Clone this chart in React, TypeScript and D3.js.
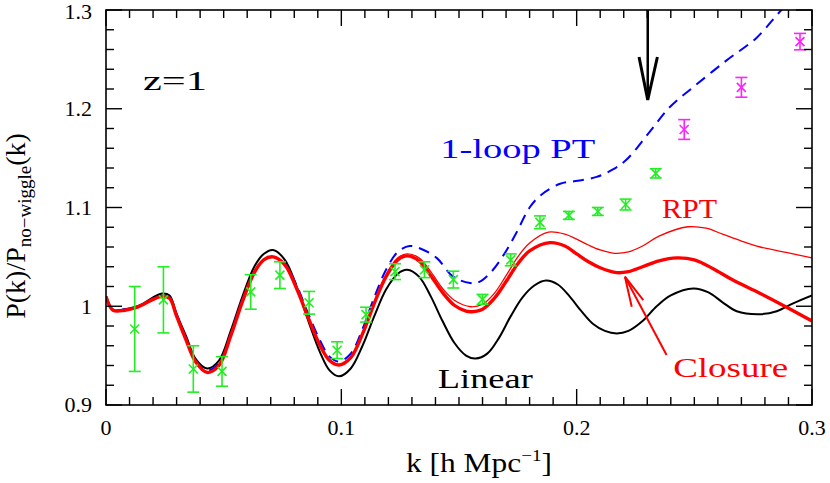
import * as d3 from "d3";
import React from "react";

// N-body points (green) and the ones beyond the marked scale (magenta)
const kGreen = [0.0122, 0.0244, 0.0371, 0.0493, 0.0615, 0.0739, 0.0863, 0.0982, 0.1105, 0.1228, 0.1353, 0.1476, 0.16, 0.172, 0.1844, 0.1967, 0.209, 0.2208, 0.2336];
const pGreen = [0.977, 1.0065, 0.9365, 0.934, 1.0145, 1.0315, 1.0035, 0.9555, 0.9915, 1.035, 1.037, 1.027, 1.007, 1.047, 1.085, 1.092, 1.096, 1.103, 1.1346];
const eGreen = [0.043, 0.0335, 0.0235, 0.015, 0.0175, 0.0135, 0.0115, 0.0085, 0.0075, 0.008, 0.008, 0.0085, 0.005, 0.006, 0.0065, 0.004, 0.004, 0.0055, 0.0047];

const kMagenta = [0.2457, 0.27, 0.2949];
const pMagenta = [1.179, 1.2217, 1.268];
const eMagenta = [0.01, 0.01, 0.0083];

// Linear theory
const kLin = [0, 0.003, 0.008, 0.012, 0.016, 0.02, 0.024, 0.027, 0.03, 0.034, 0.038, 0.043, 0.048, 0.053, 0.058, 0.063, 0.067, 0.071, 0.076, 0.081, 0.086, 0.091, 0.095, 0.099, 0.104, 0.109, 0.114, 0.119, 0.124, 0.128, 0.133, 0.138, 0.143, 0.148, 0.153, 0.157, 0.162, 0.167, 0.172, 0.177, 0.182, 0.187, 0.192, 0.197, 0.202, 0.207, 0.212, 0.217, 0.222, 0.228, 0.234, 0.24, 0.2496, 0.256, 0.262, 0.268, 0.278, 0.285, 0.292, 0.3];
const pLin = [1.01, 0.996, 0.997, 0.999, 1.003, 1.009, 1.013, 1.011, 0.992, 0.97, 0.947, 0.937, 0.945, 0.975, 1.01, 1.04, 1.053, 1.057, 1.047, 1.02, 0.985, 0.953, 0.935, 0.929, 0.937, 0.96, 0.99, 1.017, 1.033, 1.037, 1.03, 1.01, 0.985, 0.963, 0.95, 0.947, 0.952, 0.968, 0.99, 1.009, 1.021, 1.026, 1.022, 1.01, 0.995, 0.982, 0.975, 0.9725, 0.975, 0.985, 1.0, 1.011, 1.018, 1.014, 1.004, 0.995, 0.992, 0.995, 1.003, 1.011];

// Closure theory (thick red)
const kClo = [0, 0.003, 0.008, 0.012, 0.016, 0.02, 0.024, 0.027, 0.03, 0.034, 0.038, 0.043, 0.048, 0.053, 0.058, 0.063, 0.067, 0.071, 0.076, 0.081, 0.086, 0.091, 0.095, 0.099, 0.104, 0.109, 0.114, 0.119, 0.124, 0.128, 0.133, 0.138, 0.143, 0.148, 0.153, 0.1555, 0.16, 0.165, 0.17, 0.175, 0.18, 0.1887, 0.195, 0.2, 0.205, 0.21, 0.217, 0.222, 0.228, 0.235, 0.2425, 0.25, 0.258, 0.266, 0.278, 0.29, 0.3];
const pClo = [1.01, 0.996, 0.996, 0.998, 1.002, 1.007, 1.01, 1.008, 0.99, 0.966, 0.944, 0.933, 0.94, 0.97, 1.005, 1.034, 1.047, 1.05, 1.042, 1.018, 0.988, 0.96, 0.945, 0.9405, 0.948, 0.972, 1.003, 1.03, 1.047, 1.051, 1.046, 1.031, 1.014, 1.001, 0.995, 0.9945, 0.997, 1.008, 1.025, 1.043, 1.056, 1.0644, 1.061, 1.053, 1.045, 1.039, 1.034, 1.035, 1.04, 1.046, 1.049, 1.047, 1.038, 1.027, 1.013, 0.998, 0.985];

// RPT (thin red)
const kRpt = [0, 0.003, 0.008, 0.012, 0.016, 0.02, 0.024, 0.027, 0.03, 0.034, 0.038, 0.043, 0.048, 0.053, 0.058, 0.063, 0.067, 0.071, 0.076, 0.081, 0.086, 0.091, 0.095, 0.099, 0.104, 0.109, 0.114, 0.119, 0.124, 0.128, 0.133, 0.138, 0.143, 0.148, 0.155, 0.16, 0.165, 0.17, 0.175, 0.18, 0.188, 0.195, 0.2, 0.205, 0.21, 0.216, 0.222, 0.228, 0.235, 0.2473, 0.255, 0.262, 0.27, 0.278, 0.29, 0.3];
const pRpt = [1.01, 0.996, 0.996, 0.998, 1.002, 1.007, 1.01, 1.008, 0.99, 0.966, 0.944, 0.933, 0.94, 0.97, 1.005, 1.034, 1.047, 1.05, 1.042, 1.018, 0.988, 0.96, 0.945, 0.9405, 0.948, 0.972, 1.004, 1.032, 1.049, 1.053, 1.049, 1.035, 1.018, 1.006, 0.9995, 1.002, 1.013, 1.031, 1.05, 1.064, 1.075, 1.073, 1.068, 1.062, 1.057, 1.0536, 1.055, 1.061, 1.071, 1.0805, 1.079, 1.073, 1.066, 1.06, 1.054, 1.049];

// 1-loop PT (blue dashed)
const kPt = [0, 0.003, 0.008, 0.012, 0.016, 0.02, 0.024, 0.027, 0.03, 0.034, 0.038, 0.043, 0.048, 0.053, 0.058, 0.063, 0.067, 0.071, 0.076, 0.081, 0.086, 0.091, 0.095, 0.099, 0.104, 0.109, 0.114, 0.119, 0.124, 0.129, 0.134, 0.1405, 0.1475, 0.1547, 0.158, 0.163, 0.169, 0.1745, 0.18, 0.185, 0.193, 0.2005, 0.2085, 0.215, 0.221, 0.2305, 0.2397, 0.2496, 0.2637, 0.2765, 0.287, 0.292];
const pPt = [1.01, 0.996, 0.997, 0.998, 1.002, 1.007, 1.011, 1.009, 0.992, 0.968, 0.945, 0.935, 0.942, 0.972, 1.007, 1.035, 1.047, 1.05, 1.043, 1.021, 0.992, 0.965, 0.949, 0.944, 0.952, 0.977, 1.009, 1.037, 1.055, 1.061, 1.058, 1.049, 1.03, 1.0235, 1.024, 1.033, 1.052, 1.075, 1.1, 1.113, 1.124, 1.127, 1.131, 1.138, 1.148, 1.175, 1.202, 1.222, 1.249, 1.272, 1.3, 1.311];

const xTickLabels = ["0", "0.1", "0.2", "0.3"];
const yTickLabels = ["0.9", "1", "1.1", "1.2", "1.3"];

const W = 830;
const H = 483;
const m = { left: 106, right: 812, top: 10, bottom: 405 };
const FONT = "'Liberation Serif', serif";

const x = d3.scaleLinear().domain([0, 0.3]).range([m.left, m.right]);
const y = d3.scaleLinear().domain([0.9, 1.3]).range([m.bottom, m.top]);

const line = d3
  .line<[number, number]>()
  .x((d) => x(d[0]))
  .y((d) => y(d[1]))
  .curve(d3.curveCatmullRom.alpha(0.5));

const zip = (ks: number[], ps: number[]) => ks.map((k, i) => [k, ps[i]] as [number, number]);

const Points = ({ ks, ps, es, color }: { ks: number[]; ps: number[]; es: number[]; color: string }) => (
  <g stroke={color} strokeWidth={1.6} fill="none">
    {ks.map((k, i) => {
      const cx = x(k);
      const cy = y(ps[i]);
      const hi = y(ps[i] + es[i]);
      const lo = y(ps[i] - es[i]);
      const c = 6;
      const s = 4.5;
      return (
        <g key={i}>
          <line x1={cx} x2={cx} y1={hi} y2={lo} />
          <line x1={cx - c} x2={cx + c} y1={hi} y2={hi} />
          <line x1={cx - c} x2={cx + c} y1={lo} y2={lo} />
          <line x1={cx - s} x2={cx + s} y1={cy - s} y2={cy + s} />
          <line x1={cx - s} x2={cx + s} y1={cy + s} y2={cy - s} />
        </g>
      );
    })}
  </g>
);

export default function App() {
  const xMinor = d3.range(0, 31).map((i) => i / 100);
  const yMinor = d3.range(0, 21).map((i) => 0.9 + i * 0.02);
  const xMajor = xTickLabels.map(Number);
  const yMajor = yTickLabels.map(Number);

  return (
    <svg width={W} height={H} style={{ position: "absolute", left: 0, top: 0, background: "#fff" }}>
      <defs>
        <clipPath id="plot">
          <rect x={m.left} y={m.top} width={m.right - m.left} height={m.bottom - m.top} />
        </clipPath>
      </defs>

      {/* curves */}
      <g clipPath="url(#plot)" fill="none">
        <path d={line(zip(kLin, pLin)) || ""} stroke="#000" strokeWidth={2} />
        <path d={line(zip(kRpt, pRpt)) || ""} stroke="#ff0000" strokeWidth={1.3} />
        <path d={line(zip(kPt, pPt)) || ""} stroke="#0000ff" strokeWidth={2} strokeDasharray="11,7" />
        <path d={line(zip(kClo, pClo)) || ""} stroke="#ff0000" strokeWidth={3.4} />
      </g>

      <Points ks={kGreen} ps={pGreen} es={eGreen} color="#22ee22" />
      <Points ks={kMagenta} ps={pMagenta} es={eMagenta} color="#ff22ff" />

      {/* arrows */}
      <g stroke="#000" strokeWidth={2.5} fill="none">
        <line x1={x(0.2302)} x2={x(0.2302)} y1={y(1.3)} y2={y(1.2089)} />
        <polyline
          points={`${x(0.2265)},${y(1.2524)} ${x(0.2302)},${y(1.2089)} ${x(0.2343)},${y(1.2524)}`}
          strokeWidth={3}
        />
      </g>
      <g stroke="#ff0000" strokeWidth={2} fill="none">
        <line x1={x(0.2382)} y1={y(0.9506)} x2={x(0.2205)} y2={y(1.0299)} />
        <polyline
          points={`${x(0.2234)},${y(0.9995)} ${x(0.2205)},${y(1.0299)} ${x(0.2283)},${y(1.0063)}`}
        />
      </g>

      {/* frame and ticks */}
      <rect x={m.left} y={m.top} width={m.right - m.left} height={m.bottom - m.top} fill="none" stroke="#000" strokeWidth={1.6} />
      <g stroke="#000" strokeWidth={1.4}>
        {xMinor.map((k, i) => {
          const len = i % 10 === 0 ? 16 : 8;
          return (
            <g key={"x" + i}>
              <line x1={x(k)} x2={x(k)} y1={m.bottom} y2={m.bottom - len} />
              <line x1={x(k)} x2={x(k)} y1={m.top} y2={m.top + len} />
            </g>
          );
        })}
        {yMinor.map((v, i) => {
          const len = i % 5 === 0 ? 16 : 8;
          return (
            <g key={"y" + i}>
              <line x1={m.left} x2={m.left + len} y1={y(v)} y2={y(v)} />
              <line x1={m.right} x2={m.right - len} y1={y(v)} y2={y(v)} />
            </g>
          );
        })}
      </g>

      {/* tick labels */}
      <g fontFamily={FONT} fontSize={22} fill="#000">
        {xMajor.map((k, i) => (
          <text key={i} x={x(k)} y={435} textAnchor="middle">
            {xTickLabels[i]}
          </text>
        ))}
        {yMajor.map((v, i) => (
          <text key={i} x={92} y={Math.max(y(v), 12)} dy="0.34em" textAnchor="end">
            {yTickLabels[i]}
          </text>
        ))}
      </g>

      {/* axis titles */}
      <text x={406} y={472} fontFamily={FONT} fontSize={28} textLength={146} lengthAdjust="spacingAndGlyphs">
        k [h Mpc<tspan fontSize={17} dy={-11}>−1</tspan>
        <tspan dy={11}>]</tspan>
      </text>
      <text transform="translate(25,226) rotate(-90)" textAnchor="middle" fontFamily={FONT} fontSize={28}>
        P(k)/P<tspan fontSize={19} dy={6}>no−wiggle</tspan>
        <tspan dy={-6}>(k)</tspan>
      </text>

      {/* annotations */}
      <g fontFamily={FONT} fontSize={28}>
        <text x={x(0.0157)} y={y(1.219)} textLength={64} lengthAdjust="spacingAndGlyphs">
          z=1
        </text>
        <text x={x(0.142)} y={y(1.15)} fill="#0000ff" textLength={155} lengthAdjust="spacingAndGlyphs">
          1-loop PT
        </text>
        <text x={x(0.2363)} y={y(1.0894)} fill="#ff0000" textLength={55} lengthAdjust="spacingAndGlyphs">
          RPT
        </text>
        <text x={x(0.241)} y={y(0.9287)} fill="#ff0000" textLength={115} lengthAdjust="spacingAndGlyphs">
          Closure
        </text>
        <text x={x(0.141)} y={y(0.9172)} fill="#000" textLength={95} lengthAdjust="spacingAndGlyphs">
          Linear
        </text>
      </g>
    </svg>
  );
}
